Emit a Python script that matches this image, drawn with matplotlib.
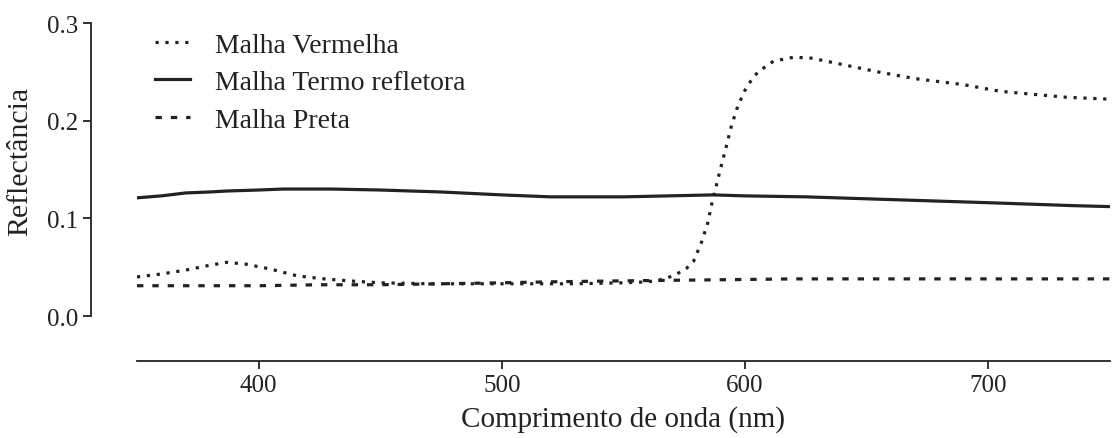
import matplotlib.pyplot as plt

# reflectance spectra (wavelength in nm)
wl_vermelha = [350, 360, 370, 380, 387, 395, 405, 416, 427, 437, 450, 470, 490, 510,
               530, 550, 560, 565, 569, 572.6, 576, 578.8, 582, 584.6, 586.3, 588.3,
               590.3, 592.4, 594.4, 597, 600.3, 602.7, 605.3, 611.7, 620, 627.4, 639,
               654.5, 670, 689.5, 705, 732, 750]
r_vermelha = [0.040, 0.043, 0.047, 0.052, 0.055, 0.053, 0.048, 0.041, 0.038, 0.036,
              0.034, 0.033, 0.033, 0.033, 0.033, 0.034, 0.035, 0.037, 0.040, 0.044,
              0.049, 0.056, 0.075, 0.095, 0.115, 0.135, 0.155, 0.175, 0.195, 0.215,
              0.233, 0.242, 0.250, 0.261, 0.265, 0.264, 0.258, 0.250, 0.243, 0.237,
              0.230, 0.224, 0.222]

wl_termo = [350, 360, 370, 380, 387, 400, 410, 430, 450, 475, 500, 520, 550, 587,
            600, 625, 650, 675, 700, 735, 750]
r_termo = [0.121, 0.123, 0.126, 0.127, 0.128, 0.129, 0.130, 0.130, 0.129, 0.127,
           0.124, 0.122, 0.122, 0.124, 0.123, 0.122, 0.120, 0.118, 0.116, 0.113, 0.112]

wl_preta = [350, 375, 400, 425, 450, 475, 500, 520, 550, 586, 620, 660, 700, 750]
r_preta = [0.031, 0.031, 0.031, 0.032, 0.032, 0.033, 0.034, 0.035, 0.036, 0.037,
           0.038, 0.038, 0.038, 0.038]

plt.rcParams['font.family'] = ['Liberation Serif', 'DejaVu Serif']

fig = plt.figure(figsize=(11.12, 4.39), dpi=100)
ax = fig.add_axes([0.1232, 0.2779, 0.875, 0.6674])

ink = '#222222'
lw = 2.3
ax.plot(wl_vermelha, r_vermelha, color=ink, lw=lw, linestyle=(0, (1, 2.1)),
        label='Malha Vermelha')
ax.plot(wl_termo, r_termo, color=ink, lw=lw, linestyle='-',
        label='Malha Termo refletora')
ax.plot(wl_preta, r_preta, color=ink, lw=lw, linestyle=(0, (2.0, 2.8)),
        label='Malha Preta')

ax.set_xlim(350, 750)
ax.set_ylim(0, 0.3)
ax.set_xticks([400, 500, 600, 700])
ax.set_yticks([0.0, 0.1, 0.2, 0.3])
ax.set_yticklabels(['0.0', '0.1', '0.2', '0.3'])

for s in ['top', 'right']:
    ax.spines[s].set_visible(False)
ax.spines['left'].set_position(('outward', 33))
ax.spines['bottom'].set_position(('outward', 32.5))
for s in ['left', 'bottom']:
    ax.spines[s].set_linewidth(1.3)
    ax.spines[s].set_color(ink)
ax.tick_params(direction='out', length=6, width=1.3, colors=ink, labelcolor=ink,
               labelsize=18)

ax.set_xlabel('Comprimento de onda (nm)', fontsize=21, color=ink, labelpad=6)
ax.set_ylabel('Reflectância', fontsize=21.5, color=ink)
ax.yaxis.set_label_coords(-0.107, 0.53)

leg = ax.legend(loc='upper left', bbox_to_anchor=(0.007, 1.007), frameon=False,
                fontsize=20, handlelength=1.25, handletextpad=0.9, labelspacing=0.44,
                borderaxespad=0.0, borderpad=0.4, labelcolor=ink)

fig.savefig('out.png', dpi=100)
